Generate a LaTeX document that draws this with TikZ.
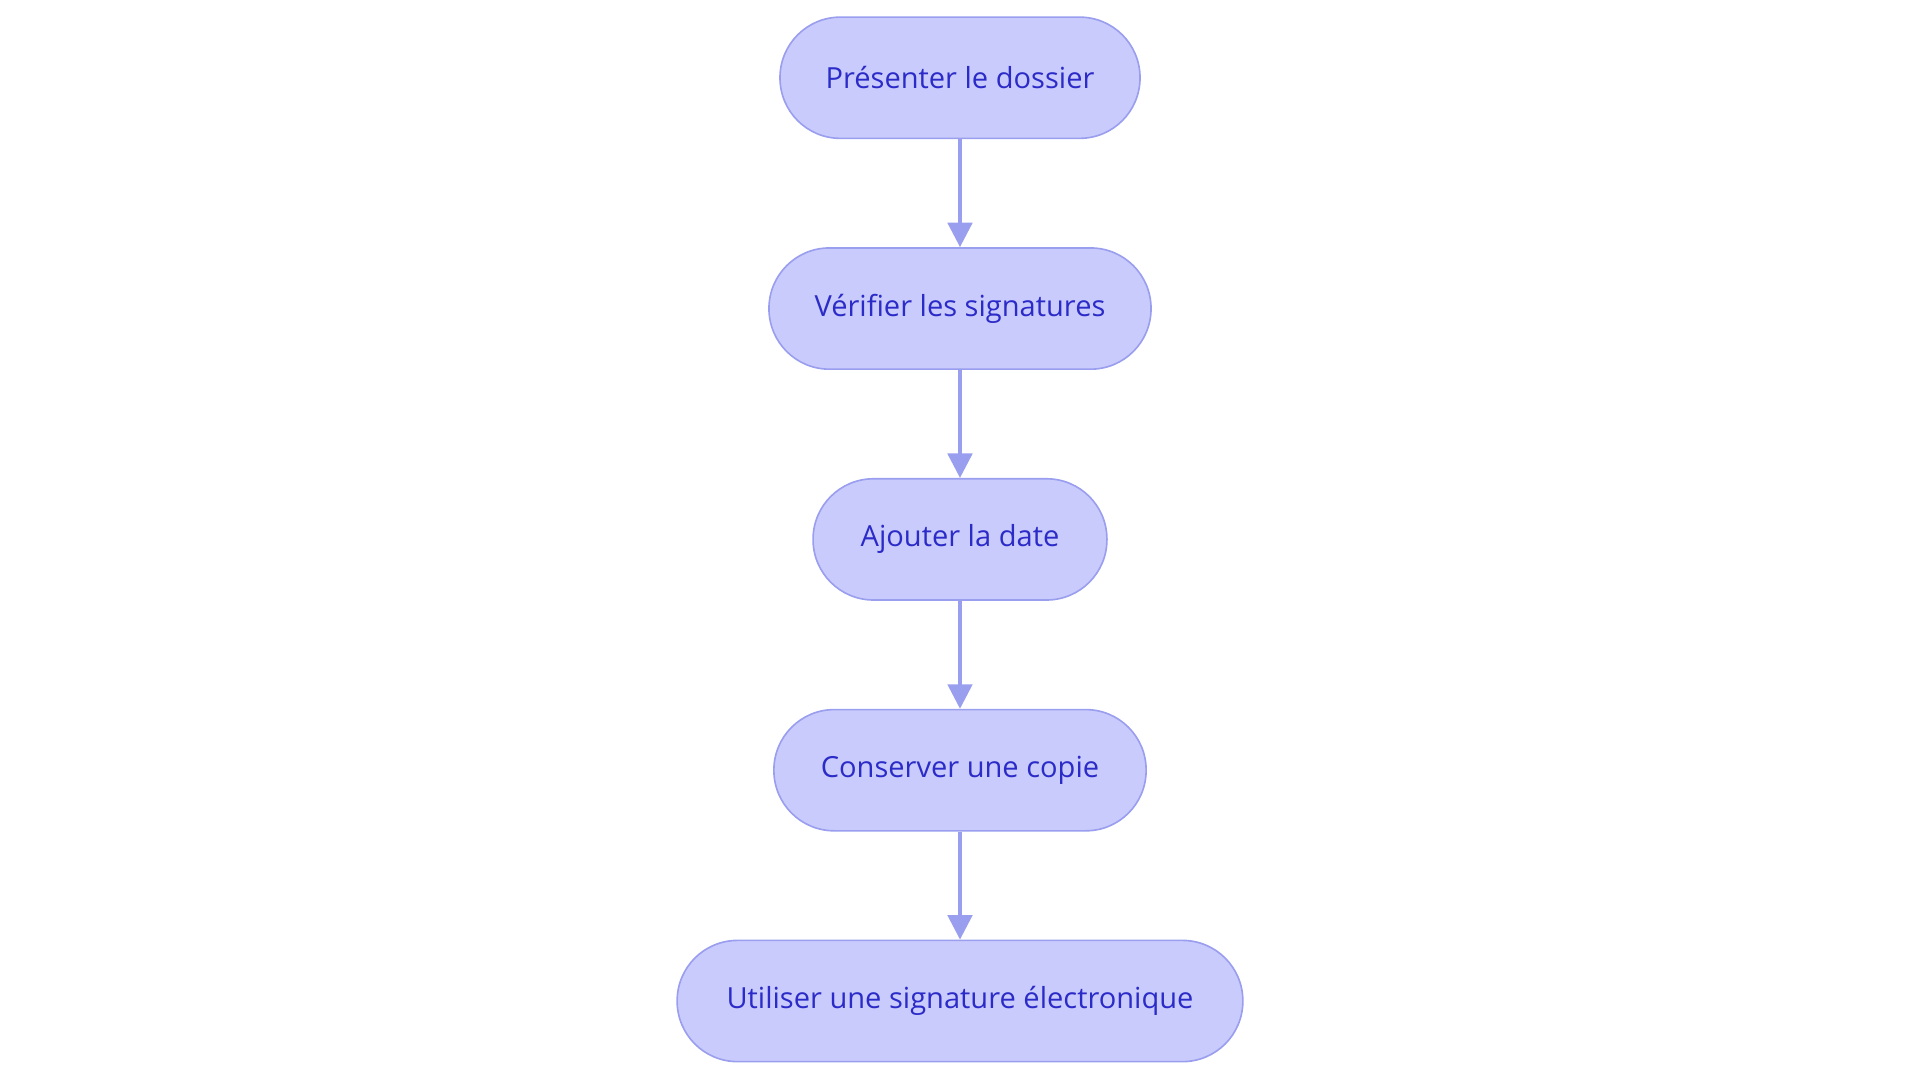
\documentclass[tikz,border=0pt]{standalone}
\usepackage{fontspec}
\setmainfont{Open Sans}
\usetikzlibrary{arrows.meta}
\definecolor{nfill}{HTML}{CACBFD}
\definecolor{nline}{HTML}{9A9EEE}
\definecolor{ntext}{HTML}{2B2BC8}
\begin{document}
\begin{tikzpicture}[x=0.75pt,y=-0.75pt,
  box/.style={draw=nline,fill=nfill,line width=1pt,rounded corners=37pt,minimum height=74.25pt,inner sep=0pt,text=ntext,font=\fontsize{17.8}{20}\selectfont},
  arr/.style={draw=nline,line width=2.2pt,-{Triangle[length=15pt,width=15pt]}}]
\useasboundingbox (0,0) rectangle (1568,884);
\node[box,minimum width=220.5pt] (a) at (784,63.5) {Présenter le dossier};
\node[box,minimum width=234pt] (b) at (784,252) {Vérifier les signatures};
\node[box,minimum width=180pt] (c) at (784,440.5) {Ajouter la date};
\node[box,minimum width=228pt] (d) at (784,629) {Conserver une copie};
\node[box,minimum width=346.5pt] (e) at (784,817.5) {Utiliser une signature électronique};
\draw[arr] (a) -- (b);
\draw[arr] (b) -- (c);
\draw[arr] (c) -- (d);
\draw[arr] (d) -- (e);
\end{tikzpicture}
\end{document}
